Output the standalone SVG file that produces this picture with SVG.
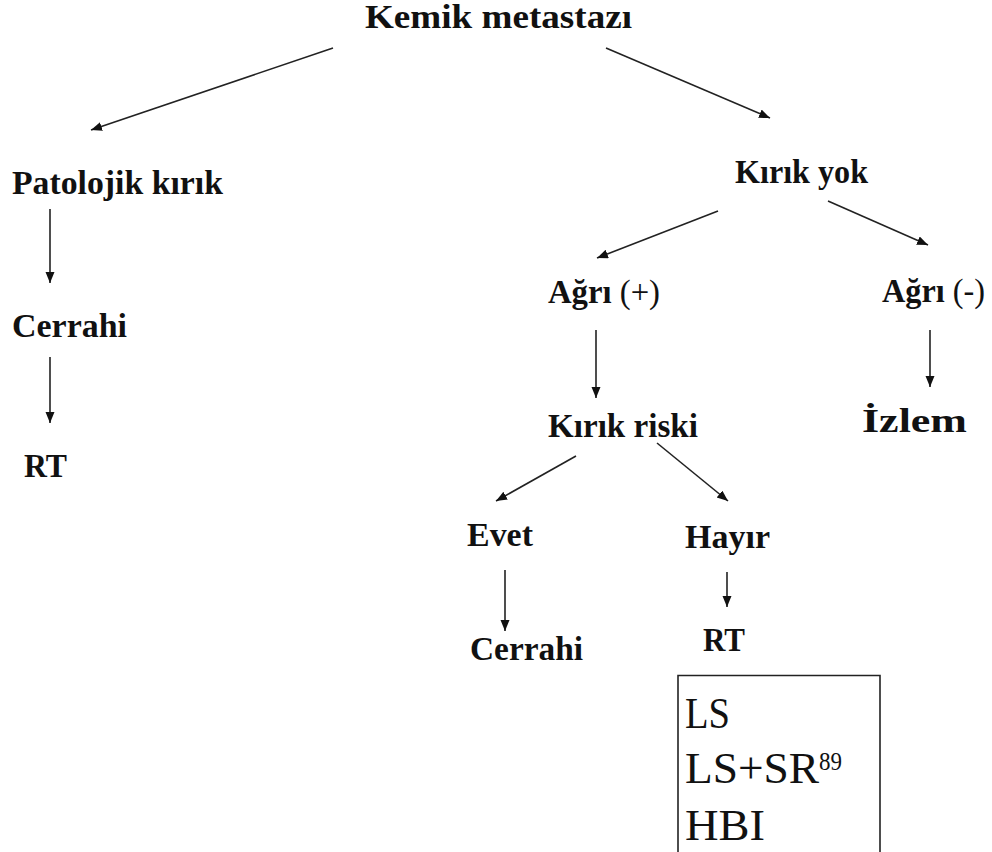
<svg xmlns="http://www.w3.org/2000/svg" width="992" height="852" viewBox="0 0 992 852">
<defs>
<marker id="ah" markerUnits="userSpaceOnUse" markerWidth="12" markerHeight="10" refX="11" refY="4.5" orient="auto">
<path d="M0,0 L11,4.5 L0,9 z" fill="#111"/>
</marker>
</defs>
<rect width="992" height="852" fill="#fff"/>
<g id="connectors" stroke="#222" stroke-width="1.6" marker-end="url(#ah)">
<line x1="333" y1="48" x2="91" y2="130"/>
<line x1="606" y1="48" x2="770" y2="118"/>
<line x1="50" y1="209" x2="50" y2="283"/>
<line x1="50" y1="357" x2="50" y2="423"/>
<line x1="718" y1="211" x2="597" y2="258"/>
<line x1="828" y1="201" x2="928" y2="245"/>
<line x1="596" y1="330" x2="596" y2="398"/>
<line x1="930" y1="330" x2="930" y2="387"/>
<line x1="576" y1="456" x2="496" y2="501"/>
<line x1="657" y1="443" x2="728" y2="501"/>
<line x1="505" y1="570" x2="505" y2="631"/>
<line x1="727" y1="572" x2="727" y2="607"/>
</g>
<g style="font-family:'Liberation Serif',serif;font-weight:bold;font-size:33px" fill="#111">
<g id="kemik"><text x="365" y="28" textLength="267" lengthAdjust="spacingAndGlyphs">Kemik metastazı</text></g>
<g id="patolojik"><text x="12" y="194" textLength="211" lengthAdjust="spacingAndGlyphs">Patolojik kırık</text></g>
<g id="kirikyok"><text x="735" y="183" textLength="133" lengthAdjust="spacingAndGlyphs">Kırık yok</text></g>
<g id="agriplus"><text x="548" y="303" textLength="112" lengthAdjust="spacingAndGlyphs">Ağrı <tspan font-weight="normal" style="font-weight:normal">(+)</tspan></text></g>
<g id="agriminus"><text x="882" y="302" textLength="103" lengthAdjust="spacingAndGlyphs">Ağrı <tspan style="font-weight:normal">(-)</tspan></text></g>
<g id="cerrahi1"><text x="12" y="337" textLength="115" lengthAdjust="spacingAndGlyphs">Cerrahi</text></g>
<g id="rt1"><text x="24" y="477" textLength="43" lengthAdjust="spacingAndGlyphs">RT</text></g>
<g id="kirikriski"><text x="548" y="437" textLength="150" lengthAdjust="spacingAndGlyphs">Kırık riski</text></g>
<g id="izlem"><text x="862" y="432" textLength="105" lengthAdjust="spacingAndGlyphs">İzlem</text></g>
<g id="evet"><text x="467" y="546" textLength="66" lengthAdjust="spacingAndGlyphs">Evet</text></g>
<g id="hayir"><text x="685" y="548" textLength="85" lengthAdjust="spacingAndGlyphs">Hayır</text></g>
<g id="cerrahi2"><text x="470" y="660" textLength="113" lengthAdjust="spacingAndGlyphs">Cerrahi</text></g>
<g id="rt2"><text x="703" y="651" textLength="42" lengthAdjust="spacingAndGlyphs">RT</text></g>
</g>
<g id="box" style="font-family:'Liberation Serif',serif;font-size:44px" fill="#111">
<path d="M678,852 V675.5 H880 V852" fill="none" stroke="#222" stroke-width="1.6"/>
<text x="685" y="728" textLength="45" lengthAdjust="spacingAndGlyphs">LS</text>
<text x="685" y="783" textLength="134" lengthAdjust="spacingAndGlyphs">LS+SR</text>
<text x="819" y="770" style="font-size:25px" textLength="23" lengthAdjust="spacingAndGlyphs">89</text>
<text x="685" y="840" textLength="80" lengthAdjust="spacingAndGlyphs">HBI</text>
</g>
</svg>
